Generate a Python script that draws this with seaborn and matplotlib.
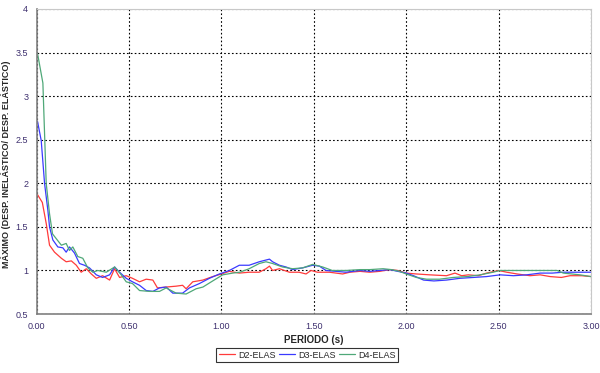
import numpy as np
import pandas as pd
import matplotlib
matplotlib.use("Agg")
import matplotlib.pyplot as plt
import seaborn as sns

# ---- data ----
x_red = [0.005,0.031,0.052,0.07,0.097,0.134,0.16,0.188,0.215,0.241,0.269,0.296,0.323,0.357,0.395,0.422,0.449,0.485,0.519,0.557,0.593,0.629,0.654,0.701,0.755,0.79,0.809,0.845,0.9,0.953,1.0,1.043,1.097,1.15,1.205,1.241,1.26,1.277,1.314,1.368,1.42,1.458,1.485,1.52,1.585,1.656,1.695,1.75,1.803,1.857,1.91,1.955,2.0,2.055,2.127,2.218,2.264,2.3,2.336,2.39,2.435,2.5,2.544,2.6,2.67,2.725,2.779,2.84,2.886,2.95,3.0]
y_red = [1.87,1.78,1.54,1.29,1.21,1.14,1.10,1.11,1.06,0.98,1.02,0.96,0.91,0.94,0.89,1.02,0.92,0.94,0.91,0.87,0.90,0.89,0.80,0.81,0.82,0.83,0.79,0.87,0.89,0.93,0.96,0.99,0.97,0.98,0.98,1.02,1.05,1.00,1.02,0.98,0.98,0.96,1.00,0.98,0.98,0.96,0.98,0.99,0.98,0.99,1.01,1.00,0.97,0.96,0.95,0.94,0.97,0.94,0.95,0.94,0.97,1.00,0.98,0.96,0.94,0.95,0.93,0.92,0.94,0.94,0.93]

x_blue = [0.005,0.025,0.043,0.061,0.07,0.088,0.115,0.142,0.16,0.178,0.205,0.232,0.259,0.286,0.323,0.357,0.395,0.422,0.449,0.485,0.519,0.557,0.593,0.629,0.665,0.701,0.737,0.79,0.827,0.881,0.935,0.989,1.043,1.097,1.15,1.205,1.26,1.277,1.314,1.35,1.385,1.44,1.494,1.53,1.566,1.62,1.674,1.75,1.803,1.857,1.91,1.955,2.0,2.04,2.094,2.15,2.218,2.29,2.363,2.435,2.508,2.58,2.652,2.725,2.79,2.85,2.92,3.0]
y_blue = [2.71,2.49,2.0,1.69,1.50,1.35,1.27,1.26,1.21,1.27,1.20,1.08,1.06,1.03,0.95,0.92,0.95,1.04,0.98,0.91,0.87,0.83,0.77,0.76,0.80,0.81,0.74,0.74,0.80,0.85,0.91,0.96,1.00,1.06,1.06,1.10,1.13,1.10,1.06,1.04,1.01,1.03,1.06,1.05,1.00,0.99,0.98,1.00,0.99,1.00,1.01,0.99,0.97,0.94,0.89,0.88,0.89,0.91,0.92,0.93,0.95,0.94,0.95,0.97,0.97,0.98,0.98,0.98]

x_green = [0.005,0.034,0.052,0.07,0.086,0.097,0.134,0.16,0.178,0.196,0.223,0.25,0.277,0.304,0.331,0.377,0.422,0.458,0.485,0.519,0.557,0.611,0.665,0.701,0.755,0.809,0.863,0.9,0.953,1.007,1.061,1.10,1.15,1.205,1.241,1.277,1.331,1.385,1.44,1.494,1.548,1.6,1.674,1.75,1.803,1.875,1.92,1.964,2.0,2.055,2.11,2.18,2.254,2.33,2.4,2.47,2.508,2.58,2.652,2.73,2.816,2.85,2.94,3.0]
y_green = [3.49,3.15,2.0,1.65,1.42,1.39,1.29,1.31,1.23,1.27,1.16,1.14,1.03,0.98,1.00,0.98,1.04,0.95,0.87,0.85,0.77,0.76,0.76,0.80,0.74,0.73,0.79,0.81,0.88,0.95,0.97,0.98,1.02,1.08,1.10,1.08,1.04,1.02,1.03,1.07,1.04,1.00,1.00,1.01,1.01,1.02,1.01,0.99,0.96,0.92,0.90,0.90,0.92,0.93,0.95,0.98,1.00,1.00,1.00,1.00,1.00,0.97,0.95,0.93]

series_names = ["D2-ELAS", "D3-ELAS", "D4-ELAS"]
x_ticks = [0.0, 0.5, 1.0, 1.5, 2.0, 2.5, 3.0]
x_tick_labels = ["0.00", "0.50", "1.00", "1.50", "2.00", "2.50", "3.00"]
y_ticks = [0.5, 1.0, 1.5, 2.0, 2.5, 3.0, 3.5, 4.0]
y_tick_labels = ["0.5", "1", "1.5", "2", "2.5", "3", "3.5", "4"]

df = pd.concat([
    pd.DataFrame({"T": x_red, "R": y_red, "serie": series_names[0]}),
    pd.DataFrame({"T": x_blue, "R": y_blue, "serie": series_names[1]}),
    pd.DataFrame({"T": x_green, "R": y_green, "serie": series_names[2]}),
], ignore_index=True)

sns.set_theme(style="white")
plt.rcParams["font.family"] = ["Liberation Sans", "DejaVu Sans"]

fig = plt.figure(figsize=(6.0, 3.73), dpi=100)
ax = fig.add_axes([0.061, 0.158, 0.924, 0.818])

palette = {series_names[0]: "#ff3b3b", series_names[1]: "#3a3aff", series_names[2]: "#4fa878"}
sns.lineplot(data=df, x="T", y="R", hue="serie", palette=palette, estimator=None,
             sort=False, linewidth=0.9, ax=ax, legend=True)

ax.set_xlim(0, 3.0)
ax.set_ylim(0.5, 4.0)
ax.set_xticks(x_ticks)
ax.set_xticklabels(x_tick_labels)
ax.set_yticks(y_ticks)
ax.set_yticklabels(y_tick_labels)

tick_color = "#3d2f6e"
ax.tick_params(axis="both", labelsize=6.5, colors="#808080",
               length=3, width=0.8, direction="out", pad=3)
ax.tick_params(axis="both", labelcolor=tick_color)

ax.grid(True, color="black", linestyle=(0, (1.5, 2)), linewidth=0.8)
for s in ["left", "bottom"]:
    ax.spines[s].set_color("#808080")
    ax.spines[s].set_linewidth(1.2)
for s in ["top", "right"]:
    ax.spines[s].set_color("#c8c8c8")
    ax.spines[s].set_linewidth(0.8)

ax.set_xlabel("PERIODO (s)", fontsize=7, fontweight="bold")
ax.xaxis.set_label_coords(0.5, -0.07)
ax.set_ylabel("MÁXIMO (DESP. INELÁSTICO/ DESP. ELÁSTICO)", fontsize=6.5,
              fontweight="bold")
ax.yaxis.set_label_coords(-0.046, 0.49)

handles, labels = ax.get_legend_handles_labels()
ax.get_legend().remove()
leg = fig.legend(handles, labels, loc="center", bbox_to_anchor=(0.512, 0.048), ncol=3,
                 frameon=True, fancybox=False, fontsize=6.5, handlelength=1.8,
                 handletextpad=0.3, columnspacing=0.4, borderpad=0.3)
leg.get_frame().set_edgecolor("black")
leg.get_frame().set_linewidth(0.8)

fig.savefig("out.png", dpi=100)
